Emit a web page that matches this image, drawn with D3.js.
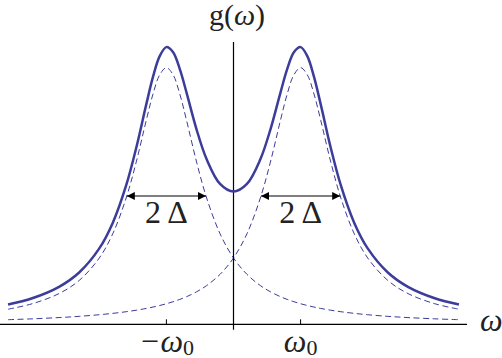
<!DOCTYPE html>
<html>
<head>
<meta charset="utf-8">
<script src="https://cdn.jsdelivr.net/npm/d3@7"></script>
<style>
	body { margin: 0; background: #fff; }
	svg { display: block; }
	text { font-family: "Liberation Serif", "Times New Roman", serif; fill: #222; }
</style>
</head>
<body>
<div id="main_node"></div>
<script>
let width = 502;
let height = 358;

// omega in units of omega0
var omega = [
	-3.36, -3.0, -2.6, -2.3, -2.0, -1.8, -1.6, -1.45, -1.3, -1.2, -1.1, -1.0, -0.9, -0.8, -0.7, -0.55, -0.4, -0.2,
	0,
	0.2, 0.4, 0.55, 0.7, 0.8, 0.9, 1.0, 1.1, 1.2, 1.3, 1.45, 1.6, 1.8, 2.0, 2.3, 2.6, 3.0, 3.36,
];

// dashed line, peak at -omega0
var leftPeak = [
	0.0589, 0.0801, 0.1198, 0.1709, 0.2584, 0.3525, 0.492, 0.632, 0.795, 0.897, 0.972, 1.0, 0.972, 0.897, 0.795, 0.632, 0.492, 0.3525,
	0.2584,
	0.1948, 0.1509, 0.1267, 0.1076, 0.0971, 0.088, 0.0801, 0.0732, 0.0672, 0.0618, 0.0549, 0.049, 0.0426, 0.0373, 0.031, 0.0262, 0.0213, 0.018,
];

// dashed line, peak at +omega0
var rightPeak = [
	0.018, 0.0213, 0.0262, 0.031, 0.0373, 0.0426, 0.049, 0.0549, 0.0618, 0.0672, 0.0732, 0.0801, 0.088, 0.0971, 0.1076, 0.1267, 0.1509, 0.1948,
	0.2584,
	0.3525, 0.492, 0.632, 0.795, 0.897, 0.972, 1.0, 0.972, 0.897, 0.795, 0.632, 0.492, 0.3525, 0.2584, 0.1709, 0.1198, 0.0801, 0.0589,
];

// solid line g(omega)
var total = [
	0.0769, 0.1014, 0.146, 0.2019, 0.2957, 0.3951, 0.541, 0.687, 0.857, 0.964, 1.045, 1.08, 1.06, 0.994, 0.903, 0.759, 0.643, 0.547,
	0.517,
	0.547, 0.643, 0.759, 0.903, 0.994, 1.06, 1.08, 1.045, 0.964, 0.857, 0.687, 0.541, 0.3951, 0.2957, 0.2019, 0.146, 0.1014, 0.0769,
];

var tickValues = [-1, 1];
var tickNames = ["\u2212\u03c9", "\u03c9"];

// full width markers: center, half width, height
var widthCenters = [-1, 1];
var widthHalf = [0.59, 0.59];
var widthLevel = [0.5, 0.5];

var curveColor = "#3c3c9b";

var svg = d3
	.select("#main_node")
	.append("svg")
	.attr("width", width)
	.attr("height", height);

var x = d3.scaleLinear().domain([-3.48, 3.48]).range([0, 467]);
var y = d3.scaleLinear().domain([0, 1.1]).range([324.3, 42]);

var line = function (values) {
	return d3
		.line()
		.x(function (d, i) {
			return x(omega[i]);
		})
		.y(function (d) {
			return y(d);
		})
		.curve(d3.curveCatmullRom)(values);
};

// dashed single peaks
[leftPeak, rightPeak].forEach(function (values) {
	svg.append("path")
		.attr("d", line(values))
		.attr("fill", "none")
		.attr("stroke", curveColor)
		.attr("stroke-width", 1)
		.attr("stroke-dasharray", "6,3.5");
});

// x axis
svg.append("line")
	.attr("x1", x(-3.48))
	.attr("x2", x(3.48))
	.attr("y1", y(0))
	.attr("y2", y(0))
	.attr("stroke", "#000")
	.attr("stroke-width", 1.2);

// y axis
svg.append("line")
	.attr("x1", x(0))
	.attr("x2", x(0))
	.attr("y1", y(0) + 5.5)
	.attr("y2", y(1.1))
	.attr("stroke", "#000")
	.attr("stroke-width", 1.2);

svg.selectAll(".tick")
	.data(tickValues)
	.enter()
	.append("line")
	.attr("class", "tick")
	.attr("x1", function (d) {
		return x(d);
	})
	.attr("x2", function (d) {
		return x(d);
	})
	.attr("y1", y(0))
	.attr("y2", y(0) - 5)
	.attr("stroke", "#000")
	.attr("stroke-width", 1);

// sum curve
svg.append("path")
	.attr("d", line(total))
	.attr("fill", "none")
	.attr("stroke", curveColor)
	.attr("stroke-width", 2.5);

// tick labels
var tickText = svg
	.selectAll(".tickLabel")
	.data(tickValues)
	.enter()
	.append("text")
	.attr("class", "tickLabel")
	.attr("x", function (d) {
		return x(d);
	})
	.attr("y", 352)
	.attr("text-anchor", "middle")
	.style("font-size", "32px");
tickText
	.append("tspan")
	.style("font-style", "italic")
	.text(function (d, i) {
		return tickNames[i];
	});
tickText
	.append("tspan")
	.attr("dy", 3)
	.style("font-size", "22px")
	.text("0");

// axis labels
var gLabel = svg
	.append("text")
	.attr("x", 237)
	.attr("y", 25)
	.attr("text-anchor", "middle")
	.style("font-size", "30px");
gLabel.append("tspan").text("g(");
gLabel.append("tspan").style("font-style", "italic").text("\u03c9");
gLabel.append("tspan").text(")");

svg.append("text")
	.attr("x", 480)
	.attr("y", 331)
	.style("font-size", "32px")
	.style("font-style", "italic")
	.text("\u03c9");

// 2 delta arrows
var defs = svg.append("defs");
defs.append("marker")
	.attr("id", "head")
	.attr("viewBox", "0 0 10 10")
	.attr("refX", 10)
	.attr("refY", 5)
	.attr("markerWidth", 9)
	.attr("markerHeight", 8)
	.attr("markerUnits", "userSpaceOnUse")
	.attr("orient", "auto-start-reverse")
	.append("path")
	.attr("d", "M0,0L10,5L0,10z")
	.attr("fill", "#000");

svg.selectAll(".widthArrow")
	.data(widthCenters)
	.enter()
	.append("line")
	.attr("class", "widthArrow")
	.attr("x1", function (d, i) {
		return x(d - widthHalf[i]);
	})
	.attr("x2", function (d, i) {
		return x(d + widthHalf[i]);
	})
	.attr("y1", function (d, i) {
		return y(widthLevel[i]);
	})
	.attr("y2", function (d, i) {
		return y(widthLevel[i]);
	})
	.attr("stroke", "#000")
	.attr("stroke-width", 1.2)
	.attr("marker-start", "url(#head)")
	.attr("marker-end", "url(#head)");

svg.selectAll(".widthLabel")
	.data(widthCenters)
	.enter()
	.append("text")
	.attr("class", "widthLabel")
	.attr("x", function (d) {
		return x(d);
	})
	.attr("y", function (d, i) {
		return y(widthLevel[i]) + 27;
	})
	.attr("text-anchor", "middle")
	.style("font-size", "32px")
	.text("2 \u0394");
</script>
</body>
</html>
